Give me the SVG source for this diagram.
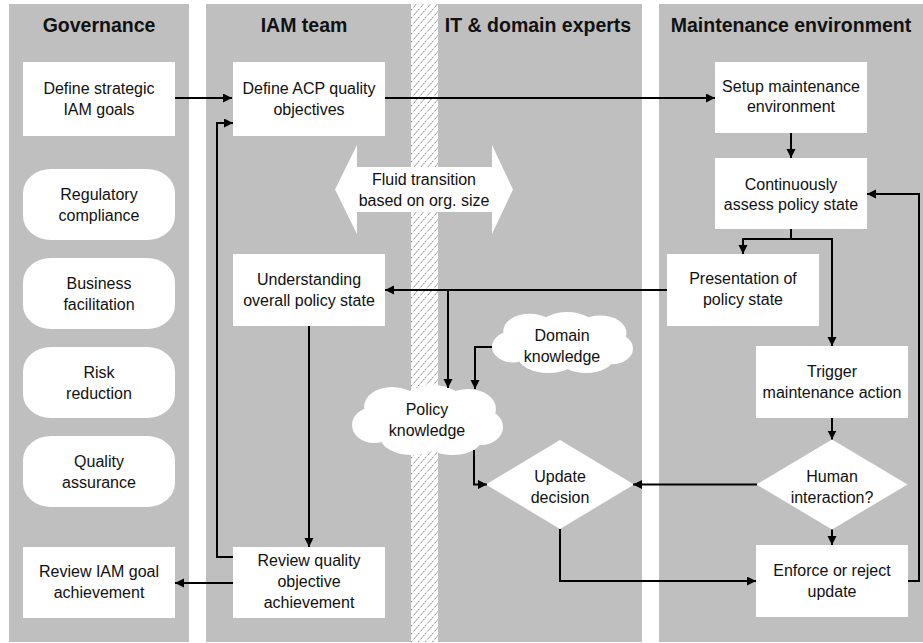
<svg xmlns="http://www.w3.org/2000/svg" width="923" height="643" viewBox="0 0 923 643">
<style>
.lane{fill:#bfbfbf}
.box{fill:#ffffff}
.t{font-family:"Liberation Sans",Arial,sans-serif;font-size:16px;fill:#111;text-anchor:middle}
.h{font-family:"Liberation Sans",Arial,sans-serif;font-size:19.5px;font-weight:bold;fill:#111;text-anchor:middle}
.c{fill:none;stroke:#000;stroke-width:2}
.a{marker-end:url(#ah)}
</style>
<defs>
<marker id="ah" markerWidth="10" markerHeight="10" refX="9" refY="4.5" orient="auto" markerUnits="userSpaceOnUse"><path d="M0,0 L9,4.5 L0,9 z" fill="#000"/></marker>
<pattern id="hatch" patternUnits="userSpaceOnUse" width="7" height="8"><rect width="7" height="8" fill="#fff"/><path d="M-1,9.14 L8,-1.14" stroke="#555" stroke-width="0.8" stroke-dasharray="2 1"/></pattern>
<g id="cloud" fill="#fff">
<ellipse cx="40" cy="22" rx="28" ry="20"/>
<ellipse cx="80" cy="18" rx="30" ry="18"/>
<ellipse cx="115" cy="24" rx="28" ry="20"/>
<ellipse cx="128" cy="42" rx="22" ry="18"/>
<ellipse cx="100" cy="52" rx="30" ry="18"/>
<ellipse cx="60" cy="52" rx="32" ry="18"/>
<ellipse cx="22" cy="40" rx="22" ry="18"/>
<ellipse cx="75" cy="36" rx="60" ry="24"/>
</g>
</defs>

<g id="lanes">
<rect class="lane" x="9" y="4" width="180" height="638"/>
<rect class="lane" x="206" y="4" width="205" height="638"/>
<rect x="411" y="4" width="27" height="638" fill="url(#hatch)"/>
<rect class="lane" x="438" y="4" width="204" height="638"/>
<rect class="lane" x="659" y="4" width="264" height="638"/>
<text class="h" x="99" y="32">Governance</text>
<text class="h" x="304" y="32">IAM team</text>
<text class="h" x="538" y="32">IT &amp; domain experts</text>
<text class="h" x="791" y="32">Maintenance environment</text>
</g>

<g id="fluid-transition">
<polygon fill="#fff" points="335,189.5 357,145 357,167 492,167 492,145 513,189.5 492,234 492,212 357,212 357,234"/>
<text class="t" x="424" y="185">Fluid transition</text>
<text class="t" x="424" y="206">based on org. size</text>
</g>

<g id="define-strategic">
<rect class="box" x="23" y="62" width="152" height="74"/>
<text class="t" x="99" y="94">Define strategic</text>
<text class="t" x="99" y="115">IAM goals</text>
</g>
<g id="regulatory">
<rect class="box" x="23" y="169" width="152" height="71" rx="28" ry="24"/>
<text class="t" x="99" y="200">Regulatory</text>
<text class="t" x="99" y="221">compliance</text>
</g>
<g id="business">
<rect class="box" x="23" y="258" width="152" height="71" rx="28" ry="24"/>
<text class="t" x="99" y="289">Business</text>
<text class="t" x="99" y="310">facilitation</text>
</g>
<g id="risk">
<rect class="box" x="23" y="347" width="152" height="71" rx="28" ry="24"/>
<text class="t" x="99" y="378">Risk</text>
<text class="t" x="99" y="399">reduction</text>
</g>
<g id="quality">
<rect class="box" x="23" y="436" width="152" height="71" rx="28" ry="24"/>
<text class="t" x="99" y="467">Quality</text>
<text class="t" x="99" y="488">assurance</text>
</g>
<g id="review-iam">
<rect class="box" x="23" y="547" width="152" height="71"/>
<text class="t" x="99" y="577">Review IAM goal</text>
<text class="t" x="99" y="598">achievement</text>
</g>

<g id="define-acp">
<rect class="box" x="233" y="62" width="152" height="74"/>
<text class="t" x="309" y="94">Define ACP quality</text>
<text class="t" x="309" y="115">objectives</text>
</g>
<g id="understanding">
<rect class="box" x="233" y="254" width="152" height="72"/>
<text class="t" x="309" y="285">Understanding</text>
<text class="t" x="309" y="306">overall policy state</text>
</g>
<g id="review-quality">
<rect class="box" x="233" y="547" width="152" height="71"/>
<text class="t" x="309" y="566">Review quality</text>
<text class="t" x="309" y="587">objective</text>
<text class="t" x="309" y="608">achievement</text>
</g>

<g id="domain-knowledge">
<use href="#cloud" transform="translate(492,312) scale(0.94,0.87)"/>
<text class="t" x="562" y="341">Domain</text>
<text class="t" x="562" y="362">knowledge</text>
</g>
<g id="policy-knowledge">
<use href="#cloud" transform="translate(352,385) scale(1.0067,1)"/>
<text class="t" x="427" y="415">Policy</text>
<text class="t" x="427" y="436">knowledge</text>
</g>
<g id="update-decision">
<polygon fill="#fff" points="560,440 634,484.5 560,529 486,484.5"/>
<text class="t" x="560" y="482">Update</text>
<text class="t" x="560" y="503">decision</text>
</g>

<g id="setup">
<rect class="box" x="715" y="62" width="152" height="71"/>
<text class="t" x="791" y="92">Setup maintenance</text>
<text class="t" x="791" y="112">environment</text>
</g>
<g id="continuously">
<rect class="box" x="715" y="158" width="152" height="71"/>
<text class="t" x="791" y="190">Continuously</text>
<text class="t" x="791" y="210">assess policy state</text>
</g>
<g id="presentation">
<rect class="box" x="667" y="254" width="152" height="72"/>
<text class="t" x="743" y="284">Presentation of</text>
<text class="t" x="743" y="305">policy state</text>
</g>
<g id="trigger">
<rect class="box" x="756" y="346" width="152" height="72"/>
<text class="t" x="832" y="377">Trigger</text>
<text class="t" x="832" y="398">maintenance action</text>
</g>
<g id="human">
<polygon fill="#fff" points="832,439.5 907.5,484.5 832,529.5 756.5,484.5"/>
<text class="t" x="832" y="482">Human</text>
<text class="t" x="832" y="503">interaction?</text>
</g>
<g id="enforce">
<rect class="box" x="756" y="545" width="152" height="72"/>
<text class="t" x="832" y="576">Enforce or reject</text>
<text class="t" x="832" y="597">update</text>
</g>

<g id="connectors">
<path class="c a" d="M175,98 H232"/>
<path class="c a" d="M385,98 H715"/>
<path class="c a" d="M791,133 V158"/>
<path class="c a" d="M791,229 V239 H743 V254"/>
<path class="c a" d="M791,239 H832 V346"/>
<path class="c a" d="M667,290 H385"/>
<path class="c a" d="M448,290 V388"/>
<path class="c a" d="M492,347 H475 V389"/>
<path class="c a" d="M309,326 V547"/>
<path class="c a" d="M233,557 H217 V123 H233"/>
<path class="c a" d="M233,583 H175"/>
<path class="c a" d="M474,450 V484.5 H487"/>
<path class="c a" d="M757,484.5 H633"/>
<path class="c a" d="M832,418 V439.5"/>
<path class="c a" d="M832,529.5 V545"/>
<path class="c a" d="M560,529 V581 H756"/>
<path class="c a" d="M908,581 H919 V194 H867"/>
</g>
</svg>
